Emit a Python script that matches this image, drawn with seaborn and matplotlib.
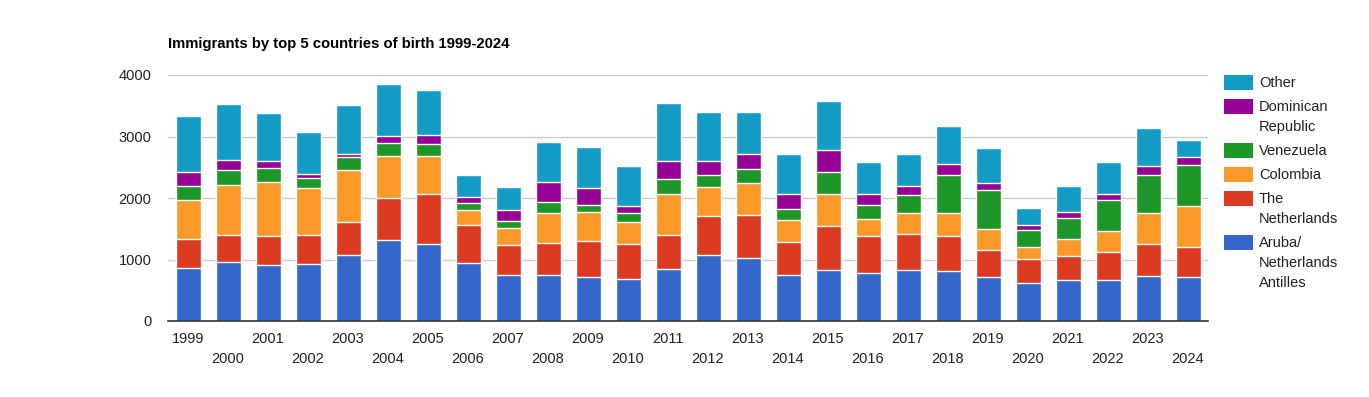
import numpy as np
import pandas as pd
import matplotlib
matplotlib.use("Agg")
import matplotlib.pyplot as plt
from matplotlib.patches import Rectangle
import seaborn as sns

years = [str(y) for y in range(1999, 2025)]
aruba = [857, 955, 906, 923, 1069, 1313, 1248, 939, 754, 754, 722, 689, 852, 1080, 1031, 754, 836, 787, 836, 819, 722, 624, 673, 673, 738, 722]
netherlands = [473, 440, 472, 477, 537, 684, 814, 619, 478, 521, 586, 570, 554, 635, 700, 538, 716, 602, 586, 570, 439, 391, 391, 456, 521, 488]
colombia = [635, 814, 880, 755, 847, 684, 619, 244, 288, 473, 472, 358, 651, 456, 505, 358, 505, 277, 326, 359, 342, 195, 276, 342, 489, 668]
venezuela = [238, 244, 228, 168, 212, 212, 195, 114, 114, 179, 114, 131, 260, 195, 228, 179, 358, 228, 293, 634, 619, 277, 342, 504, 618, 651]
dominican = [212, 168, 119, 70, 49, 114, 147, 97, 179, 341, 266, 130, 277, 228, 244, 244, 358, 179, 162, 163, 130, 81, 98, 98, 147, 130]
other = [923, 901, 771, 673, 792, 841, 727, 364, 369, 646, 673, 646, 944, 809, 695, 646, 809, 505, 505, 619, 554, 277, 407, 505, 618, 277]

series_names = ["Aruba/\nNetherlands\nAntilles", "The\nNetherlands", "Colombia",
                "Venezuela", "Dominican\nRepublic", "Other"]
series_vals = [aruba, netherlands, colombia, venezuela, dominican, other]
colors = ["#3467C9", "#DA3A20", "#FB9A2A", "#1B9627", "#960096", "#149BC6"]
yticks = [0, 1000, 2000, 3000, 4000]
title = "Immigrants by top 5 countries of birth 1999-2024"

sns.set_theme(style="white")
plt.rcParams['font.family'] = ['Liberation Sans', 'DejaVu Sans']

W, H = 1369, 397
fig = plt.figure(figsize=(W / 100, H / 100), dpi=100)
ax = fig.add_axes([168 / W, 1 - 321 / H, (1208 - 168) / W, (321 - 75) / H])

cum = np.zeros(len(years))
cums = []
for v in series_vals:
    cum = cum + np.array(v)
    cums.append(cum.copy())

# draw cumulative bars from top series down so lower ones overlay
for i in range(len(series_vals) - 1, -1, -1):
    d = pd.DataFrame({"year": years, "val": cums[i]})
    sns.barplot(data=d, x="year", y="val", order=years, color=colors[i],
                saturation=1, width=0.625, edgecolor="white", linewidth=1,
                errorbar=None, ax=ax, zorder=3)

ax.set_xlim(-0.5, len(years) - 0.5)
ax.set_ylim(0, 4000)
ax.set_yticks(yticks)
ax.set_yticklabels([str(t) for t in yticks], fontsize=10.5, color="#222222")
ax.yaxis.grid(True, color="#CCCCCC", linewidth=1, zorder=0)
ax.set_axisbelow(True)
for s in ["top", "right", "left"]:
    ax.spines[s].set_visible(False)
ax.spines["bottom"].set_color("#333333")
ax.spines["bottom"].set_linewidth(1.2)
ax.spines["bottom"].set_zorder(5)
ax.tick_params(axis="y", length=0, pad=12)

pos = np.arange(len(years))
ax.set_xticks(pos[0::2])
ax.set_xticklabels(years[0::2], fontsize=10.5, color="#222222")
ax.set_xticks(pos[1::2], minor=True)
ax.set_xticklabels(years[1::2], minor=True, fontsize=10.5, color="#222222")
ax.tick_params(axis="x", which="major", length=0, pad=8)
ax.tick_params(axis="x", which="minor", length=0, pad=22.5)
ax.set_xlabel("")
ax.set_ylabel("")

fig.text(168 / W, 1 - 44 / H, title, fontsize=10.7, fontweight="bold",
         ha="left", va="center", color="#000000")

# legend (top to bottom: reverse of stacking order)
top = 75
for name, col in zip(series_names[::-1], colors[::-1]):
    lines = name.split("\n")
    fig.add_artist(Rectangle(((1224) / W, 1 - (top + 15) / H), 29 / W, 15 / H,
                             transform=fig.transFigure, facecolor=col,
                             edgecolor="none"))
    for k, ln in enumerate(lines):
        fig.text(1259 / W, 1 - (top + 8 + 20 * k) / H, ln, fontsize=10.5,
                 ha="left", va="center", color="#222222")
    top += 24 + 20 * (len(lines) - 1)

fig.savefig("out.png", dpi=100)
